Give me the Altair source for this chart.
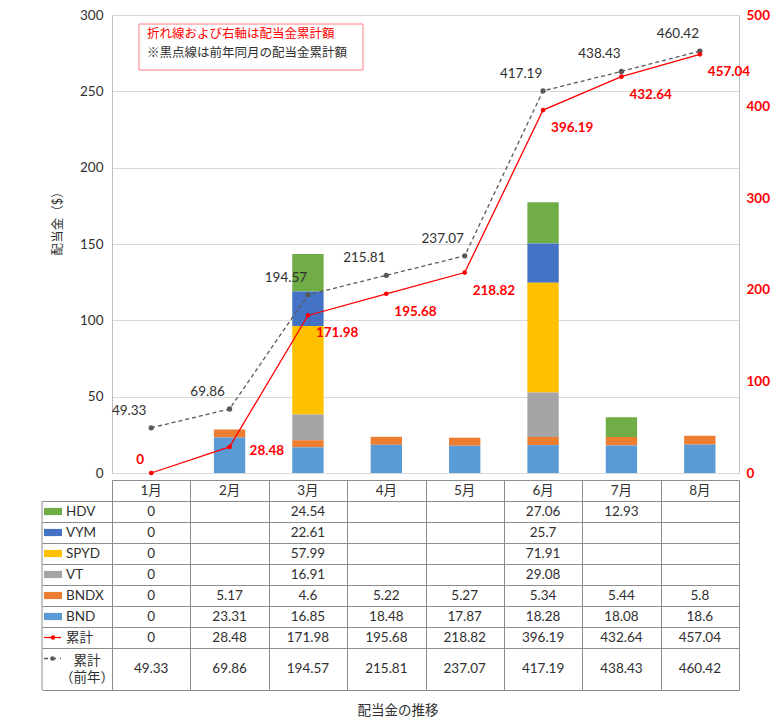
import altair as alt
import pandas as pd

# ---------------- data ----------------
months = ["1月", "2月", "3月", "4月", "5月", "6月", "7月", "8月"]
series = ["HDV", "VYM", "SPYD", "VT", "BNDX", "BND"]
series_colors = ["#70AD47", "#4472C4", "#FFC000", "#A5A5A5", "#ED7D31", "#5B9BD5"]

HDV = [0, None, 24.54, None, None, 27.06, 12.93, None]
VYM = [0, None, 22.61, None, None, 25.7, None, None]
SPYD = [0, None, 57.99, None, None, 71.91, None, None]
VT = [0, None, 16.91, None, None, 29.08, None, None]
BNDX = [0, 5.17, 4.6, 5.22, 5.27, 5.34, 5.44, 5.8]
BND = [0, 23.31, 16.85, 18.48, 17.87, 18.28, 18.08, 18.6]
series_values = [HDV, VYM, SPYD, VT, BNDX, BND]

cumulative = [0, 28.48, 171.98, 195.68, 218.82, 396.19, 432.64, 457.04]
prev_cumulative = [49.33, 69.86, 194.57, 215.81, 237.07, 417.19, 438.43, 460.42]

cum_label = "累計"
prev_label = "累計\n（前年）"
note_lines = ["折れ線および右軸は配当金累計額", "※黒点線は前年同月の配当金累計額"]
y_title = "配当金（$）"
bottom_title = "配当金の推移"
left_ticks = [0, 50, 100, 150, 200, 250, 300]
right_ticks = [0, 100, 200, 300, 400, 500]

# ---------------- style ----------------
FONT = "Lato, 'Noto Sans CJK JP', sans-serif"
LINE = "#8C8C8C"
GRID = "#D9D9D9"
TXT = "#303030"
RED = "#FF0000"
GRAYLINE = "#595959"
W = 627
H_TOP = 458
H_TAB = 210
FS = 13.5


def fmt(v):
    return f"{v:g}"


# ---------------- tables ----------------
bar_rows = []
for i, (s, vals) in enumerate(zip(series, series_values)):
    for m, v in zip(months, vals):
        if v:
            bar_rows.append({"month": m, "series": s, "value": v,
                             "stack": len(series) - 1 - i})
bar_df = pd.DataFrame(bar_rows)

line_df = pd.DataFrame({
    "month": months,
    "cum": cumulative,
    "prev": prev_cumulative,
    "cum_s": [fmt(v) for v in cumulative],
    "prev_s": [fmt(v) for v in prev_cumulative],
})

one = pd.DataFrame({"k": [0]})

# ---------------- top chart ----------------
x_top = alt.X("month:N", sort=months,
              scale=alt.Scale(domain=months, paddingInner=0.6, paddingOuter=0.3),
              axis=None)

bars = alt.Chart(bar_df).mark_bar().encode(
    x=x_top,
    y=alt.Y("value:Q", stack="zero",
            scale=alt.Scale(domain=[0, 300]),
            axis=alt.Axis(values=left_ticks, title=y_title, grid=True,
                          gridColor=GRID, ticks=False, domain=True,
                          domainColor="#BFBFBF", labelPadding=9,
                          titleX=-48, titleY=205, titleFontSize=12.5)),
    color=alt.Color("series:N", scale=alt.Scale(domain=series, range=series_colors),
                    legend=None),
    order=alt.Order("stack:Q", sort="ascending"),
)

note_box = alt.Chart(one).mark_rect(fill="white", stroke="#FF7C80", strokeWidth=1).encode(
    x=alt.value(27), x2=alt.value(251), y=alt.value(9), y2=alt.value(55))
note1 = alt.Chart(one).mark_text(text=note_lines[0], align="left", baseline="middle",
                                 color=RED, fontSize=12.5, font=FONT).encode(
    x=alt.value(35), y=alt.value(19))
note2 = alt.Chart(one).mark_text(text=note_lines[1], align="left", baseline="middle",
                                 color=TXT, fontSize=12.5, font=FONT).encode(
    x=alt.value(35), y=alt.value(38))

y_right_scale = alt.Scale(domain=[0, 500])
y_right_axis = alt.Axis(orient="right", values=right_ticks, title=None, grid=False,
                        ticks=False, domain=True, domainColor="#BFBFBF",
                        labelColor=RED, labelFontWeight="bold", labelPadding=7)


def yr(field):
    return alt.Y(field, scale=y_right_scale, axis=y_right_axis, title=None)


base = alt.Chart(line_df).encode(x=x_top)

red_line = base.mark_line(color=RED, strokeWidth=1.3).encode(y=yr("cum:Q"))
red_pts = base.mark_point(filled=True, color=RED, size=22, opacity=1).encode(y=yr("cum:Q"))
gray_line = base.mark_line(color=GRAYLINE, strokeWidth=1.3, strokeDash=[4, 3]).encode(
    y=yr("prev:Q"))
gray_pts = base.mark_point(filled=True, color=GRAYLINE, size=28, opacity=1).encode(
    y=yr("prev:Q"))
gray_lab = base.mark_text(dx=-22, dy=-17, fontSize=FS, color=TXT, font=FONT).encode(
    y=yr("prev:Q"), text="prev_s:N")

red_style = dict(color=RED, fontWeight="bold", fontSize=FS, font=FONT)
red_lab0 = base.transform_filter(alt.datum.month == months[0]).mark_text(
    align="right", dx=-7, dy=-13, **red_style).encode(y=yr("cum:Q"), text="cum_s:N")
red_lab1 = base.transform_filter(alt.datum.month == months[1]).mark_text(
    align="left", dx=20, dy=4, **red_style).encode(y=yr("cum:Q"), text="cum_s:N")
red_lab2 = base.transform_filter(
    (alt.datum.month != months[0]) & (alt.datum.month != months[1])).mark_text(
    align="left", dx=8, dy=18, **red_style).encode(y=yr("cum:Q"), text="cum_s:N")

lines = alt.layer(red_line, gray_line, gray_pts, red_pts, gray_lab,
                  red_lab0, red_lab1, red_lab2)

top = alt.layer(bars, note_box, note1, note2, lines).resolve_scale(
    y="independent").properties(width=W, height=H_TOP)

# ---------------- data table ----------------
rows = series + [cum_label, prev_label]
row_values = series_values + [cumulative, prev_cumulative]
spans = [r.count("\n") + 1 for r in rows]
tops = [1 + sum(spans[:i]) for i in range(len(rows))]
total = 1 + sum(spans)
centers = [t + s / 2 for t, s in zip(tops, spans)]
first_line = [t + 0.5 for t in tops]
boundaries = tops + [total]

cell_rows = []
for r, c, vals in zip(rows, centers, row_values):
    for m, v in zip(months, vals):
        if v is not None:
            cell_rows.append({"month": m, "yc": c, "txt": fmt(v)})
cell_df = pd.DataFrame(cell_rows)
head_df = pd.DataFrame({"month": months, "yc": [0.5] * len(months)})
label_df = pd.DataFrame({"row": rows, "yc": centers, "y_first": first_line})
leg_df = label_df.iloc[:len(series)].assign(series=series)
border_df = pd.DataFrame({"yc": [boundaries[0]], "y1": [boundaries[-1]]})

x_tab = alt.X("month:N", sort=months,
              scale=alt.Scale(domain=months, paddingInner=0, paddingOuter=0),
              axis=alt.Axis(title=None, labels=False, ticks=False, domain=False,
                            grid=True, gridColor=LINE, tickBand="extent"))
y_scale_tab = alt.Scale(domain=[0, total], reverse=True)
y_axis_tab = alt.Axis(values=boundaries, grid=True, gridColor=LINE, ticks=True,
                      tickSize=70, tickColor=LINE, labels=False, domain=False,
                      title=None)


def yt(field):
    return alt.Y(field, scale=y_scale_tab, axis=y_axis_tab, title=None)


cells = alt.Chart(cell_df).mark_text(fontSize=FS, color=TXT, font=FONT).encode(
    x=x_tab, y=yt("yc:Q"), text="txt:N")
heads = alt.Chart(head_df).mark_text(fontSize=FS, color=TXT, font=FONT).encode(
    x=x_tab, y=yt("yc:Q"), text="month:N")

left_border = alt.Chart(border_df).mark_rule(color=LINE, strokeWidth=1).encode(
    x=alt.value(-70), y=yt("yc:Q"), y2="y1:Q")

leg_sym = alt.Chart(leg_df).mark_point(
    shape="M-1,-0.4H1V0.4H-1Z", filled=True, size=324, opacity=1).encode(
    x=alt.value(-59), y=yt("yc:Q"),
    color=alt.Color("series:N", scale=alt.Scale(domain=series, range=series_colors),
                    legend=None))
leg_txt = alt.Chart(label_df.iloc[:len(series) + 1]).mark_text(
    align="left", fontSize=FS, color=TXT, font=FONT).encode(
    x=alt.value(-46), y=yt("yc:Q"), text="row:N")
prev_txt = alt.Chart(label_df.iloc[len(series) + 1:]).mark_text(
    align="center", fontSize=FS, color=TXT, font=FONT, lineBreak="\n",
    lineHeight=17, dy=-8.5).encode(
    x=alt.value(-25), y=yt("yc:Q"), text="row:N")

cum_row = label_df.iloc[[len(series)]]
prev_row = label_df.iloc[[len(series) + 1]]
cum_sym_line = alt.Chart(cum_row).mark_rule(color=RED, strokeWidth=1.3).encode(
    x=alt.value(-68), x2=alt.value(-51), y=yt("yc:Q"))
cum_sym_pt = alt.Chart(cum_row).mark_point(filled=True, color=RED, size=20, opacity=1).encode(
    x=alt.value(-59), y=yt("yc:Q"))
prev_sym_line = alt.Chart(prev_row).mark_rule(color=GRAYLINE, strokeWidth=1.3,
                                              strokeDash=[4, 4]).encode(
    x=alt.value(-68), x2=alt.value(-51), y=yt("y_first:Q"))
prev_sym_pt = alt.Chart(prev_row).mark_point(filled=True, color=GRAYLINE, size=22,
                                             opacity=1).encode(
    x=alt.value(-59.5), y=yt("y_first:Q"))

title_txt = alt.Chart(one).mark_text(text=bottom_title, fontSize=FS, color=TXT,
                                     font=FONT).encode(
    x=alt.value(286), y=alt.value(231))

table = alt.layer(cells, heads, left_border, leg_sym, leg_txt, prev_txt,
                  cum_sym_line, cum_sym_pt, prev_sym_line, prev_sym_pt,
                  title_txt).properties(
    width=W, height=H_TAB, view=alt.ViewBackground(stroke=LINE, strokeWidth=1))

chart = alt.vconcat(top, table, spacing=-4).resolve_scale(
    x="independent", y="independent", color="independent").properties(
    padding={"left": 33, "top": 0, "right": 0, "bottom": 0}
).configure(font=FONT).configure_view(stroke=None).configure_axis(
    labelFont=FONT, titleFont=FONT, labelFontSize=FS, labelColor=TXT,
    titleColor=TXT, titleFontWeight="normal")

chart.save("out.html", embed_options={"renderer": "svg", "actions": False})
